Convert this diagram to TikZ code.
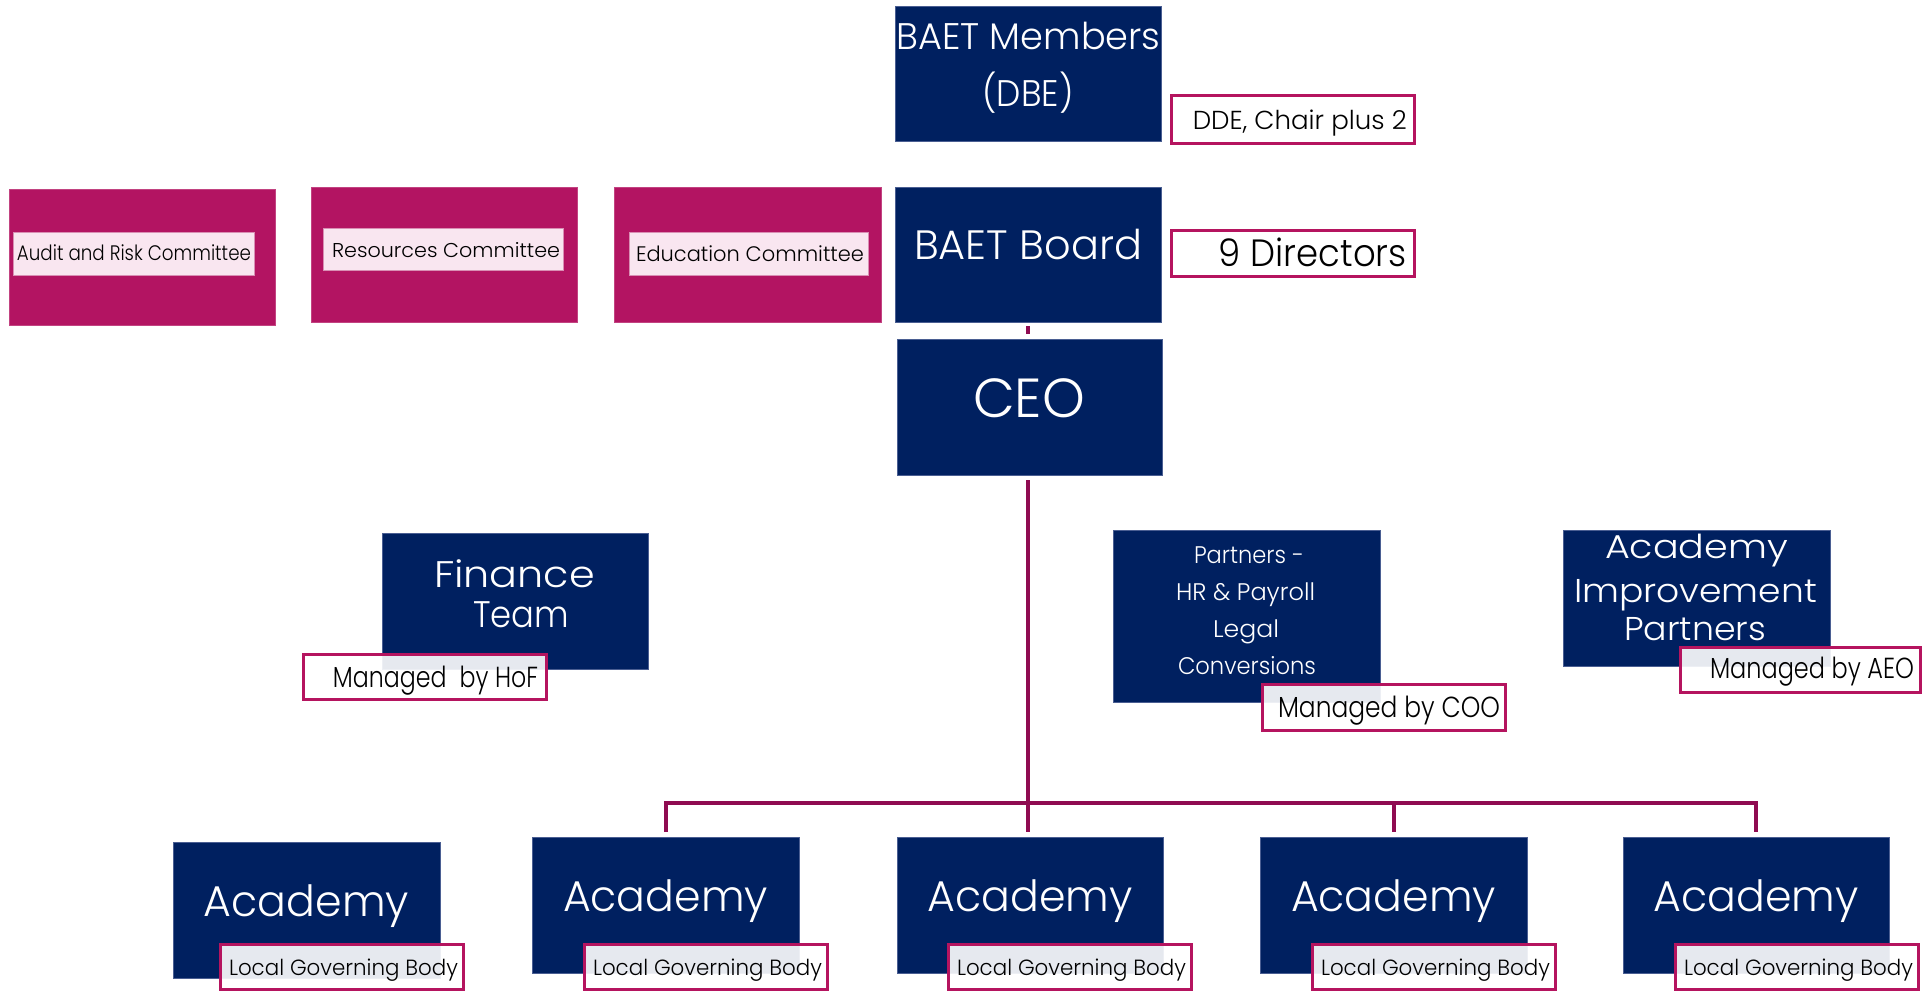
\documentclass[tikz,border=0pt]{standalone}
\usepackage{fontspec}
\IfFontExistsTF{Poppins Light}{\setmainfont{Poppins Light}}{\setmainfont{Poppins}}
\usepackage{graphicx}
\definecolor{navy}{HTML}{002060}
\definecolor{navyedge}{HTML}{4A5E92}
\definecolor{mag}{HTML}{B31462}
\definecolor{pale}{HTML}{F9E6F0}
\definecolor{paleedge}{HTML}{D98FB4}
\definecolor{tagb}{HTML}{B5145F}
\definecolor{connc}{HTML}{8F0B51}
\newcommand{\fw}[2]{\resizebox{#1pt}{\height}{#2}}
\newcommand{\setfs}[1]{\fontsize{#1}{#1}\selectfont}
\begin{document}
\begin{tikzpicture}[x=1pt,y=-1pt,
  navybox/.style={fill=navy, draw=navyedge, line width=0.8pt, anchor=north west, inner sep=0pt, outer sep=0pt},
  magbox/.style={fill=mag, draw=mag!80!white, line width=0.8pt, anchor=north west, inner sep=0pt, outer sep=0pt},
  palebox/.style={fill=pale, draw=paleedge, line width=0.6pt, anchor=north west, inner sep=0pt, outer sep=0pt},
  tagbox/.style={draw=tagb, line width=3pt, fill=white, fill opacity=0.9, draw opacity=1, anchor=north west, inner sep=0pt, outer sep=0pt},
  wtxt/.style={anchor=base, inner sep=0pt, text=white},
  btxt/.style={anchor=base, inner sep=0pt, text=black},
  conn/.style={draw=connc, line width=4pt}
]
\useasboundingbox (0,0) rectangle (1926,993);
\fill[white] (0,0) rectangle (1926,993);

% ---------- navy boxes ----------
\node[navybox, minimum width=266pt, minimum height=135pt] (members) at (895,6) {};
\node[navybox, minimum width=266pt, minimum height=135pt] (board) at (895,187) {};
\node[navybox, minimum width=265pt, minimum height=136pt] (ceo) at (897,339) {};
\node[navybox, minimum width=266pt, minimum height=136pt] (finance) at (382,533) {};
\node[navybox, minimum width=267pt, minimum height=172pt] (partners) at (1113,530) {};
\node[navybox, minimum width=267pt, minimum height=136pt] (aip) at (1563,530) {};
\node[navybox, minimum width=267pt, minimum height=136pt] (a1) at (173,842) {};
\node[navybox, minimum width=267pt, minimum height=136pt] (a2) at (532,837) {};
\node[navybox, minimum width=266pt, minimum height=136pt] (a3) at (897,837) {};
\node[navybox, minimum width=267pt, minimum height=136pt] (a4) at (1260,837) {};
\node[navybox, minimum width=266pt, minimum height=136pt] (a5) at (1623,837) {};

% ---------- committees ----------
\node[magbox, minimum width=266pt, minimum height=136pt] (audit) at (9,189) {};
\node[magbox, minimum width=266pt, minimum height=135pt] (resources) at (311,187) {};
\node[magbox, minimum width=267pt, minimum height=135pt] (education) at (614,187) {};
\node[palebox, minimum width=241pt, minimum height=43pt] (auditL) at (13,232) {};
\node[palebox, minimum width=240pt, minimum height=42pt] (resourcesL) at (323,228) {};
\node[palebox, minimum width=239pt, minimum height=43pt] (educationL) at (629,232) {};

% ---------- connectors ----------
\coordinate (bus) at (1028,803);
\draw[conn, shorten <=4pt, shorten >=5pt] (board.south) -- (board.south |- ceo.north);
\draw[conn, shorten <=5pt] (bus |- ceo.south) -- (bus);
\draw[conn, shorten >=5pt] (bus) -- (bus |- a3.north);
\draw[conn, shorten <=5pt, shorten >=5pt] (a2.north) -- (bus -| a2.north) -- (bus -| a5.north) -- (a5.north);
\draw[conn, shorten >=5pt] (bus -| a4.north) -- (a4.north);

% ---------- tags ----------
\node[tagbox, minimum width=243pt, minimum height=48pt] (dde) at (1171.5,95.5) {};
\node[tagbox, minimum width=243pt, minimum height=46pt] (directors) at (1171.5,230.5) {};
\node[tagbox, minimum width=243pt, minimum height=45pt] (hof) at (303.5,654.5) {};
\node[tagbox, minimum width=243pt, minimum height=46pt] (coo) at (1262.5,684.5) {};
\node[tagbox, minimum width=240pt, minimum height=45pt] (aeo) at (1680.5,647.5) {};
\node[tagbox, minimum width=243pt, minimum height=45pt] (l1) at (220.5,944.5) {};
\node[tagbox, minimum width=243pt, minimum height=45pt] (l2) at (584.5,944.5) {};
\node[tagbox, minimum width=243pt, minimum height=45pt] (l3) at (948.5,944.5) {};
\node[tagbox, minimum width=243pt, minimum height=45pt] (l4) at (1312.5,944.5) {};
\node[tagbox, minimum width=243pt, minimum height=45pt] (l5) at (1675.5,944.5) {};

% ---------- texts ----------
\node[wtxt, font=\setfs{37}] (tMem1) at (1028.5,49) {\fw{264}{BAET Members}};
\node[wtxt, font=\setfs{37}] (tMem2) at (1028,106) {\fw{91}{(DBE)}};
\node[wtxt, font=\setfs{41}] (tBoard) at (1028,259) {\fw{228}{BAET Board}};
\node[wtxt, font=\setfs{55}] (tCeo) at (1029,417) {\fw{112}{CEO}};

\node[btxt, font=\setfs{26}, anchor=base east] (tDde) at (1407,129) {\fw{214}{DDE, Chair plus 2}};
\node[btxt, font=\setfs{38}, anchor=base east] (tDir) at (1407,266) {\fw{188}{9 Directors}};

\node[btxt, font=\setfs{21}] (tAudit) at (134,260) {\fw{234}{Audit and Risk Committee}};
\node[btxt, font=\setfs{20}] (tRes) at (446,257) {\fw{228}{Resources Committee}};
\node[btxt, font=\setfs{21}] (tEdu) at (750,261) {\fw{228}{Education Committee}};

\node[wtxt, font=\setfs{37}] (tFin1) at (514.5,587) {\fw{161}{Finance}};
\node[wtxt, font=\setfs{37}] (tFin2) at (521,627) {\fw{96}{Team}};
\node[btxt, font=\setfs{29}] (tHof) at (435.5,687) {\fw{205}{Managed\ \ by HoF}};

\node[wtxt, font=\setfs{24}] (tP1) at (1249,563) {\fw{110}{Partners -}};
\node[wtxt, font=\setfs{24}] (tP2) at (1245.5,600) {\fw{139}{HR \& Payroll}};
\node[wtxt, font=\setfs{24}] (tP3) at (1246,637) {\fw{66}{Legal}};
\node[wtxt, font=\setfs{24}] (tP4) at (1247,674) {\fw{138}{Conversions}};
\node[btxt, font=\setfs{29}] (tCoo) at (1389,717) {\fw{222}{Managed by COO}};

\node[wtxt, font=\setfs{33}] (tA1) at (1696.5,558) {\fw{183}{Academy}};
\node[wtxt, font=\setfs{33}] (tA2) at (1695.5,602) {\fw{243}{Improvement}};
\node[wtxt, font=\setfs{33}] (tA3) at (1695,640) {\fw{142}{Partners}};
\node[btxt, font=\setfs{29}] (tAeo) at (1812,678) {\fw{204}{Managed by AEO}};

\node[wtxt, font=\setfs{43}] (ta1) at (306.5,916) {\fw{205}{Academy}};
\node[wtxt, font=\setfs{43}] (ta2) at (665.5,911) {\fw{205}{Academy}};
\node[wtxt, font=\setfs{43}] (ta3) at (1030,911) {\fw{205}{Academy}};
\node[wtxt, font=\setfs{43}] (ta4) at (1393.5,911) {\fw{205}{Academy}};
\node[wtxt, font=\setfs{43}] (ta5) at (1756,911) {\fw{205}{Academy}};

\node[btxt, font=\setfs{22}] (tl1) at (343.5,975) {\fw{229}{Local Governing Body}};
\node[btxt, font=\setfs{22}] (tl2) at (707.5,975) {\fw{229}{Local Governing Body}};
\node[btxt, font=\setfs{22}] (tl3) at (1071.5,975) {\fw{229}{Local Governing Body}};
\node[btxt, font=\setfs{22}] (tl4) at (1435.5,975) {\fw{229}{Local Governing Body}};
\node[btxt, font=\setfs{22}] (tl5) at (1798.5,975) {\fw{229}{Local Governing Body}};
\end{tikzpicture}
\end{document}
